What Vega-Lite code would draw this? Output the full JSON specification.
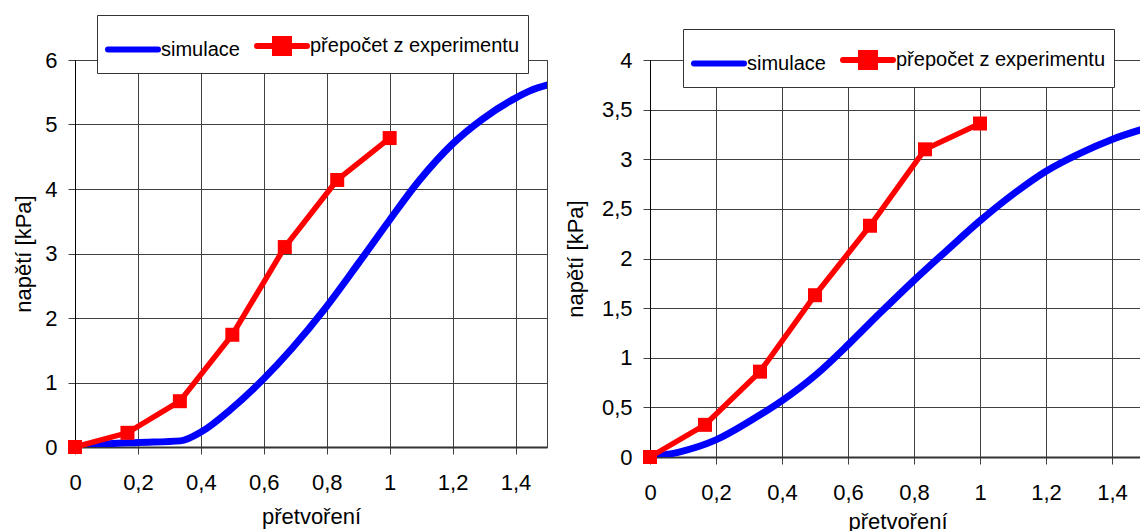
{
  "$schema": "https://vega.github.io/schema/vega-lite/v6.json",
  "background": "white",
  "padding": {"left": 12, "top": 14, "right": 0, "bottom": 0},
  "spacing": 15,
  "resolve": {"scale": {"color": "independent"}, "legend": {"color": "independent"}},
  "config": {
    "font": "Liberation Sans",
    "view": {"stroke": "#404040", "strokeWidth": 1},
    "axis": {
      "labelFont": "Liberation Sans", "labelFontSize": 22, "labelColor": "#000",
      "titleFont": "Liberation Sans", "titleFontSize": 22, "titleFontWeight": "normal", "titleColor": "#000",
      "gridColor": "#404040", "gridWidth": 1, "gridOpacity": 1,
      "tickColor": "#404040", "tickSize": 7, "domainColor": "#000",
      "labelOverlap": false
    },
    "axisX": {"labelPadding": 18, "domainWidth": 2, "domainColor": "#333", "labelFlush": false},
    "axisY": {"labelPadding": 11},
    "legend": {
      "symbolSize": 1600, "symbolStrokeWidth": 6, "padding": 8,
      "strokeColor": "#333", "fillColor": "#fff",
      "labelFont": "Liberation Sans", "labelFontSize": 20, "labelColor": "#000",
      "columnPadding": 5, "labelOffset": 5, "symbolOffset": 5, "labelLimit": 400
    }
  },
  "hconcat": [
    {
      "spacing": 0,
      "resolve": {"scale": {"color": "independent"}, "legend": {"color": "independent"}},
      "vconcat": [
        {
          "width": 472,
          "height": 387,
          "data": {"values": [
            {"series": "simulace", "x": 0, "y": 0},
            {"series": "simulace", "x": 0.108, "y": 0.05},
            {"series": "simulace", "x": 0.2, "y": 0.07},
            {"series": "simulace", "x": 0.335, "y": 0.095},
            {"series": "simulace", "x": 0.403, "y": 0.24},
            {"series": "simulace", "x": 0.494, "y": 0.58},
            {"series": "simulace", "x": 0.6, "y": 1.06},
            {"series": "simulace", "x": 0.688, "y": 1.52},
            {"series": "simulace", "x": 0.795, "y": 2.15},
            {"series": "simulace", "x": 0.901, "y": 2.85},
            {"series": "simulace", "x": 1.0, "y": 3.52},
            {"series": "simulace", "x": 1.092, "y": 4.12},
            {"series": "simulace", "x": 1.2, "y": 4.7},
            {"series": "simulace", "x": 1.294, "y": 5.08},
            {"series": "simulace", "x": 1.4, "y": 5.41},
            {"series": "simulace", "x": 1.45, "y": 5.53},
            {"series": "simulace", "x": 1.5, "y": 5.61},
            {"series": "přepočet z experimentu", "x": 0, "y": 0},
            {"series": "přepočet z experimentu", "x": 0.1667, "y": 0.22},
            {"series": "přepočet z experimentu", "x": 0.3333, "y": 0.71},
            {"series": "přepočet z experimentu", "x": 0.5, "y": 1.74},
            {"series": "přepočet z experimentu", "x": 0.6667, "y": 3.1},
            {"series": "přepočet z experimentu", "x": 0.8333, "y": 4.14},
            {"series": "přepočet z experimentu", "x": 1.0, "y": 4.79}
          ]},
          "encoding": {
            "x": {"field": "x", "type": "quantitative",
                  "scale": {"domain": [0, 1.5], "nice": false, "zero": false},
                  "axis": {"values": [0, 0.2, 0.4, 0.6, 0.8, 1, 1.2, 1.4], "labelExpr": "replace(toString(datum.value), '.', ',')", "title": "přetvoření", "titlePadding": 13}},
            "y": {"field": "y", "type": "quantitative",
                  "scale": {"domain": [0, 6], "nice": false},
                  "axis": {"values": [0, 1, 2, 3, 4, 5, 6], "title": "napětí [kPa]", "titlePadding": 9}}
          },
          "layer": [
            {
              "transform": [{"filter": "datum.series === 'simulace'"}],
              "mark": {"type": "line", "strokeWidth": 7, "interpolate": "monotone", "strokeCap": "round", "clip": true},
              "encoding": {
                "color": {"field": "series", "type": "nominal",
                          "scale": {"domain": ["simulace", "přepočet z experimentu"], "range": ["#0000ff", "#ff0000"]},
                          "legend": {"title": null, "orient": "none", "legendX": 22, "legendY": -45, "direction": "horizontal",
                                     "encode": {"symbols": {"update": {
                                       "shape": {"signal": "datum.value === 'simulace' ? 'M-1.25,0H1.25' : 'M-1.25,0H1.25M-0.35,-0.35H0.35V0.35H-0.35Z'"},
                                       "fill": {"signal": "datum.value === 'simulace' ? 'transparent' : '#ff0000'"},
                                       "strokeCap": {"value": "round"}}}}}}
              }
            },
            {
              "transform": [{"filter": "datum.series !== 'simulace'"}],
              "mark": {"type": "line", "strokeWidth": 5.5},
              "encoding": {
                "color": {"field": "series", "type": "nominal",
                          "scale": {"domain": ["simulace", "přepočet z experimentu"], "range": ["#0000ff", "#ff0000"]}}
              }
            },
            {
              "transform": [{"filter": "datum.series !== 'simulace'"}],
              "mark": {"type": "point", "shape": "square", "filled": true, "size": 196, "opacity": 1, "color": "#ff0000"},
              "encoding": {}
            }
          ]
        }
      ]
    },
    {
      "spacing": 0,
      "resolve": {"scale": {"color": "independent"}, "legend": {"color": "independent"}},
      "vconcat": [
        {
          "width": 495,
          "height": 397,
          "data": {"values": [
            {"series": "simulace", "x": 0, "y": 0},
            {"series": "simulace", "x": 0.088, "y": 0.05},
            {"series": "simulace", "x": 0.198, "y": 0.17},
            {"series": "simulace", "x": 0.309, "y": 0.375},
            {"series": "simulace", "x": 0.397, "y": 0.56},
            {"series": "simulace", "x": 0.507, "y": 0.84},
            {"series": "simulace", "x": 0.606, "y": 1.15},
            {"series": "simulace", "x": 0.697, "y": 1.45},
            {"series": "simulace", "x": 0.8, "y": 1.78},
            {"series": "simulace", "x": 0.899, "y": 2.08},
            {"series": "simulace", "x": 1.0, "y": 2.38},
            {"series": "simulace", "x": 1.101, "y": 2.65},
            {"series": "simulace", "x": 1.2, "y": 2.88},
            {"series": "simulace", "x": 1.303, "y": 3.06},
            {"series": "simulace", "x": 1.4, "y": 3.2},
            {"series": "simulace", "x": 1.5, "y": 3.31},
            {"series": "přepočet z experimentu", "x": 0, "y": 0},
            {"series": "přepočet z experimentu", "x": 0.1667, "y": 0.324},
            {"series": "přepočet z experimentu", "x": 0.3333, "y": 0.86},
            {"series": "přepočet z experimentu", "x": 0.5, "y": 1.63},
            {"series": "přepočet z experimentu", "x": 0.6667, "y": 2.33},
            {"series": "přepočet z experimentu", "x": 0.8333, "y": 3.1},
            {"series": "přepočet z experimentu", "x": 1.0, "y": 3.36}
          ]},
          "encoding": {
            "x": {"field": "x", "type": "quantitative",
                  "scale": {"domain": [0, 1.5], "nice": false, "zero": false},
                  "axis": {"values": [0, 0.2, 0.4, 0.6, 0.8, 1, 1.2, 1.4], "labelExpr": "replace(toString(datum.value), '.', ',')", "title": "přetvoření", "titlePadding": 8}},
            "y": {"field": "y", "type": "quantitative",
                  "scale": {"domain": [0, 4], "nice": false},
                  "axis": {"values": [0, 0.5, 1, 1.5, 2, 2.5, 3, 3.5, 4], "labelExpr": "replace(toString(datum.value), '.', ',')", "title": "napětí [kPa]", "titlePadding": 14}}
          },
          "layer": [
            {
              "transform": [{"filter": "datum.series === 'simulace'"}],
              "mark": {"type": "line", "strokeWidth": 7, "interpolate": "monotone", "strokeCap": "round", "clip": true},
              "encoding": {
                "color": {"field": "series", "type": "nominal",
                          "scale": {"domain": ["simulace", "přepočet z experimentu"], "range": ["#0000ff", "#ff0000"]},
                          "legend": {"title": null, "orient": "none", "legendX": 33, "legendY": -31, "direction": "horizontal",
                                     "encode": {"symbols": {"update": {
                                       "shape": {"signal": "datum.value === 'simulace' ? 'M-1.25,0H1.25' : 'M-1.25,0H1.25M-0.35,-0.35H0.35V0.35H-0.35Z'"},
                                       "fill": {"signal": "datum.value === 'simulace' ? 'transparent' : '#ff0000'"},
                                       "strokeCap": {"value": "round"}}}}}}
              }
            },
            {
              "transform": [{"filter": "datum.series !== 'simulace'"}],
              "mark": {"type": "line", "strokeWidth": 5.5},
              "encoding": {
                "color": {"field": "series", "type": "nominal",
                          "scale": {"domain": ["simulace", "přepočet z experimentu"], "range": ["#0000ff", "#ff0000"]}}
              }
            },
            {
              "transform": [{"filter": "datum.series !== 'simulace'"}],
              "mark": {"type": "point", "shape": "square", "filled": true, "size": 196, "opacity": 1, "color": "#ff0000"},
              "encoding": {}
            }
          ]
        }
      ]
    }
  ]
}
